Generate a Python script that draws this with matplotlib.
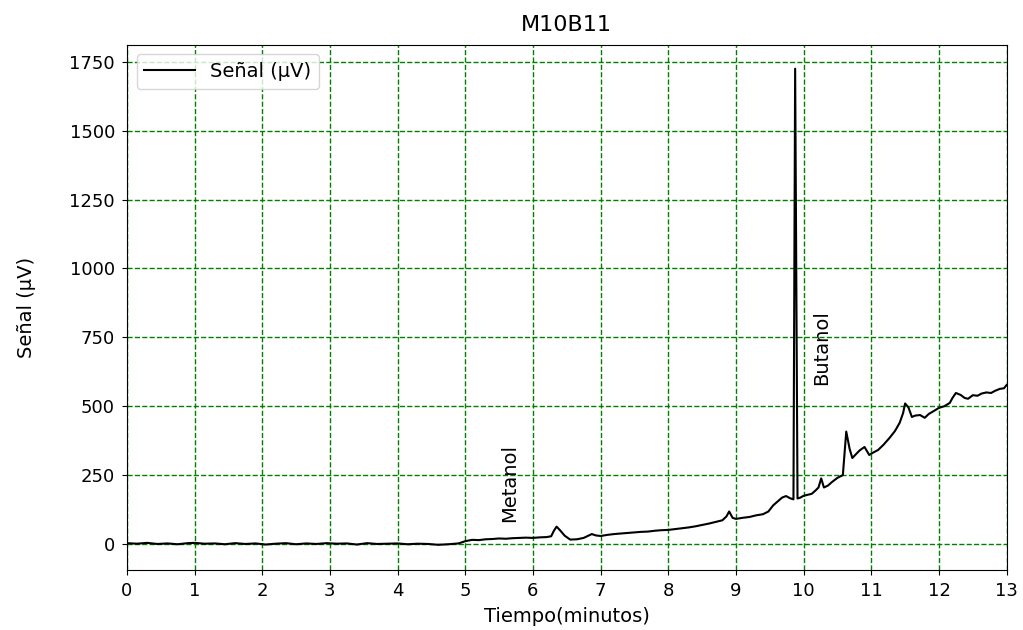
import matplotlib
matplotlib.use("Agg")
import matplotlib.pyplot as plt

tiempo = [0.0, 0.15, 0.3, 0.45, 0.6, 0.75, 0.9, 1.0, 1.15, 1.3, 1.45, 1.6, 1.75, 1.9,
          2.05, 2.2, 2.35, 2.5, 2.65, 2.8, 2.95, 3.1, 3.25, 3.4, 3.55, 3.7, 3.85,
          4.0, 4.15, 4.3, 4.45, 4.6, 4.75, 4.9, 5.0, 5.1, 5.2, 5.3, 5.4, 5.5, 5.6,
          5.7, 5.8, 5.9, 6.0, 6.1, 6.2, 6.27, 6.31, 6.35, 6.4, 6.47, 6.55, 6.65,
          6.75, 6.82, 6.87, 6.93, 7.0, 7.1, 7.2, 7.3, 7.4, 7.5, 7.6, 7.7, 7.8,
          7.9, 8.0, 8.1, 8.2, 8.3, 8.4, 8.5, 8.6, 8.7, 8.8, 8.86, 8.9, 8.95, 9.0,
          9.1, 9.2, 9.3, 9.4, 9.48, 9.55, 9.62, 9.68, 9.74, 9.8, 9.85, 9.875,
          9.91, 9.95, 10.0, 10.05, 10.12, 10.18, 10.22, 10.26, 10.3, 10.36, 10.42,
          10.5, 10.58, 10.63, 10.68, 10.72, 10.77, 10.83, 10.9, 10.97, 11.03,
          11.1, 11.18, 11.27, 11.35, 11.42, 11.47, 11.5, 11.55, 11.6, 11.65,
          11.72, 11.79, 11.85, 11.92, 12.0, 12.08, 12.16, 12.2, 12.25, 12.32,
          12.38, 12.43, 12.5, 12.57, 12.63, 12.7, 12.77, 12.83, 12.9, 12.96, 13.0]
senal = [3, 1, 4, 0, 2, -1, 3, 4, 1, 2, -1, 3, 0, 2,
         -2, 1, 3, -1, 2, 0, 3, 1, 2, -2, 3, 0, 1,
         2, -1, 1, 0, -3, -1, 2, 10, 15, 14, 17, 18, 20, 19,
         21, 22, 23, 22, 24, 25, 28, 48, 63, 50, 30, 16, 17,
         22, 30, 36, 31, 29, 33, 36, 38, 40, 42, 44, 45, 48,
         50, 51, 54, 57, 60, 64, 69, 74, 80, 86, 100, 118, 95, 91,
         95, 98, 104, 108, 118, 140, 155, 168, 174, 166, 162, 1725,
         165, 168, 175, 178, 182, 195, 205, 238, 205, 212, 225,
         240, 250, 408, 345, 312, 325, 340, 352, 323, 332,
         341, 360, 385, 410, 440, 475, 510, 495, 461, 466,
         468, 458, 472, 482, 494, 500, 512, 530, 548, 541,
         530, 527, 540, 538, 546, 550, 548, 556, 563, 565, 577]

picos = ["Metanol", "Butanol"]
pico_t = [5.66, 10.27]
pico_y = [80, 577]

fig, ax = plt.subplots(figsize=(10.23, 6.3), dpi=100)
fig.subplots_adjust(left=0.124, right=0.984, bottom=0.095, top=0.929)

ax.plot(tiempo, senal, color='black', linewidth=1.5, label='Señal (µV)')

for nombre, t, y in zip(picos, pico_t, pico_y):
    ax.text(t, y, nombre, rotation=90, ha='center', va='bottom', fontsize=14)

ax.set_xlim(0, 13)
ax.set_ylim(-95, 1812)
ax.set_xticks(range(0, 14))
ax.set_yticks(range(0, 1751, 250))
ax.tick_params(labelsize=13, pad=5)
ax.grid(True, color='green', linestyle='--', linewidth=1)

ax.set_title('M10B11', fontsize=16, pad=10)
ax.set_xlabel('Tiempo(minutos)', fontsize=14, labelpad=5)
ax.set_ylabel('Señal (µV)', fontsize=14)
ax.yaxis.set_label_coords(-0.103, 0.5)
ax.legend(loc='upper left', fontsize=14, handlelength=2.6)

plt.savefig('out.png', dpi=100)
